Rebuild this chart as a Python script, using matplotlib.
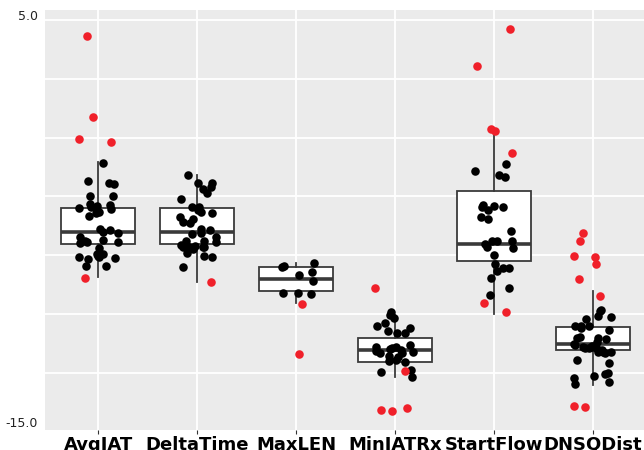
import numpy as np
from matplotlib import pyplot as plt

categories = ["AvgIAT", "DeltaTime", "MaxLEN", "MinIATRx", "StartFlow", "DNSQDist"]

# box statistics (lower whisker, q1, median, q3, upper whisker)
whis_lo = [-7.70, -7.94, -8.94, -12.46, -9.49, -12.86]
q1 = [-6.16, -6.14, -8.39, -11.75, -6.95, -11.19]
med = [-5.56, -5.56, -7.82, -11.19, -6.16, -10.90]
q3 = [-4.44, -4.44, -7.25, -10.63, -3.62, -10.08]
whis_hi = [-2.22, -2.86, -7.06, -9.52, -0.68, -8.38]

# regular points (black)
avgiat = [-2.30, -3.30, -3.24, -3.13, -3.84, -3.87, -4.41, -4.46, -4.30, -4.33, -4.40, -4.25,
          -4.80, -4.65, -4.60, -5.43, -5.63, -5.49, -5.56, -6.03, -6.03, -5.99, -5.95, -5.82,
          -6.08, -6.32, -6.63, -6.82, -6.63, -6.78, -6.71, -6.86, -6.75, -7.18, -7.18]
deltatime = [-2.86, -3.25, -3.25, -3.41, -3.54, -3.73, -4.00, -4.37, -4.52, -4.68, -4.37, -4.60,
             -4.84, -4.97, -5.16, -5.11, -5.48, -5.67, -5.80, -5.44, -5.63, -6.30, -6.30, -6.30,
             -6.24, -6.59, -6.40, -6.19, -6.03, -5.99, -5.99, -6.27, -6.78, -6.70, -7.25]
maxlen = [-7.06, -7.46, -7.62, -7.25, -7.19, -7.89, -8.49, -8.46, -8.52]
miniatrx = [-9.52, -9.37, -9.89, -10.05, -10.16, -9.68, -10.40, -10.27, -10.40, -11.06, -11.16,
            -11.24, -11.32, -11.27, -11.19, -11.11, -11.03, -10.95, -11.48, -11.51, -11.35,
            -11.70, -11.67, -11.75, -12.14, -12.22, -12.49]
startflow = [-2.35, -2.65, -2.86, -2.94, -4.32, -4.40, -4.29, -4.40, -4.52, -4.84, -4.95, -5.51,
             -5.99, -6.27, -6.14, -5.99, -6.00, -6.32, -6.68, -7.10, -7.30, -7.30, -7.43, -7.75,
             -8.22, -8.59]
dnsqdist = [-9.32, -9.29, -9.56, -9.60, -9.73, -10.05, -10.16, -10.05, -10.05, -10.24, -10.68,
            -10.63, -10.80, -11.00, -11.11, -11.19, -11.11, -11.27, -11.03, -11.27, -10.63,
            -10.56, -10.95, -11.11, -11.27, -11.35, -11.19, -11.67, -11.82, -12.33, -12.27,
            -12.43, -12.70, -12.82, -12.51, -10.90, -11.05]

# flagged points (red)
avgiat_out = [3.76, -0.10, -1.14, -1.29, -7.75]
deltatime_out = [-7.94]
maxlen_out = [-9.00, -11.38]
miniatrx_out = [-8.22, -12.19, -13.94, -14.05, -14.11]
startflow_out = [4.08, 2.35, -0.68, -0.75, -1.82, -8.95, -9.39]
dnsqdist_out = [-5.60, -5.99, -6.75, -6.71, -7.10, -7.82, -8.60, -13.86, -13.92]

points = [avgiat, deltatime, maxlen, miniatrx, startflow, dnsqdist]
flagged = [avgiat_out, deltatime_out, maxlen_out, miniatrx_out, startflow_out, dnsqdist_out]

# background grid levels and labelled axis ends
grid_levels = [4.52, 1.71, -1.10, -3.86, -6.67, -9.48, -12.29]
y_ends = [5.0, -15.0]

fig = plt.figure(figsize=(6.44, 4.5), dpi=100)
ax = fig.add_axes([45 / 644, 20 / 450, 1 - 45 / 644, 420 / 450])
ax.set_facecolor("#EBEBEB")
for s in ax.spines.values():
    s.set_visible(False)

# boxes
stats = []
for i in range(len(categories)):
    stats.append(dict(whislo=whis_lo[i], q1=q1[i], med=med[i], q3=q3[i], whishi=whis_hi[i]))
edge = "#3a3a3a"
ax.bxp(stats, positions=range(len(categories)), widths=0.75, patch_artist=True,
       showfliers=False, showcaps=False,
       boxprops=dict(facecolor="white", edgecolor=edge, linewidth=1.3),
       whiskerprops=dict(color=edge, linewidth=1.3),
       medianprops=dict(color=edge, linewidth=2.6), zorder=2)

# jittered points on top of the boxes
rng = np.random.default_rng(7)
for i in range(len(categories)):
    y = np.array(points[i])
    ax.scatter(i + rng.uniform(-0.2, 0.2, len(y)), y, s=38, color="black", lw=0, zorder=3)
    y = np.array(flagged[i])
    ax.scatter(i + rng.uniform(-0.2, 0.2, len(y)), y, s=38, color="#F0202A", lw=0, zorder=3)

ax.set_xlim(-0.54, 5.52)
ax.set_ylim(-15, 5)

# grid: white lines at categories and at the grid levels
ax.set_xticks(range(len(categories)))
ax.set_xticklabels(categories, fontsize=13, fontweight="bold")
ax.set_yticks(y_ends)
ax.set_yticklabels(["%.1f" % v for v in y_ends], fontsize=9, color="#222222")
ax.set_yticks(grid_levels, minor=True)
ax.tick_params(axis="y", which="both", length=0, pad=5)
ax.tick_params(axis="x", length=3, color="#333333", pad=1)
ax.grid(True, which="minor", axis="y", color="white", linewidth=1.3)
ax.grid(True, which="major", axis="x", color="white", linewidth=1.3)
ax.set_axisbelow(True)
# top label hangs below the edge, bottom label sits above it
labels = ax.get_yticklabels()
labels[0].set_va("top")
labels[1].set_va("bottom")

fig.savefig("out.png", dpi=100)
